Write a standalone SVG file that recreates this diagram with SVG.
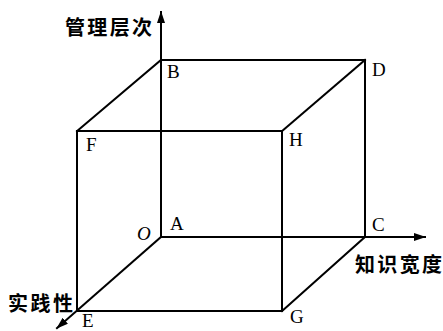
<svg xmlns="http://www.w3.org/2000/svg" width="443" height="331" viewBox="0 0 443 331">
<style>
.e{stroke:#000;stroke-width:2;fill:none;stroke-linecap:square}
.lt{font-family:"Liberation Serif","Times New Roman",serif;font-size:19px;fill:#000}
.cn{font-family:"Noto Sans CJK SC",sans-serif;font-size:20px;font-weight:bold;fill:#000}
</style>
<defs>
<marker id="ar" viewBox="0 0 12 8" refX="11" refY="4" markerWidth="12" markerHeight="8" markerUnits="userSpaceOnUse" orient="auto">
<path d="M0,0 L12,4 L0,8 Z" fill="#000"/>
</marker>
</defs>
<g id="connectors">
<line class="e" x1="161" y1="237" x2="161" y2="12" marker-end="url(#ar)"/>
<line class="e" x1="161" y1="237" x2="425" y2="237" marker-end="url(#ar)"/>
<line class="e" x1="161" y1="237" x2="57" y2="328" marker-end="url(#ar)"/>
<line class="e" x1="161" y1="60" x2="365" y2="60"/>
<line class="e" x1="365" y1="60" x2="365" y2="237"/>
<line class="e" x1="161" y1="60" x2="77" y2="131"/>
<line class="e" x1="365" y1="60" x2="282" y2="131"/>
<line class="e" x1="77" y1="131" x2="282" y2="131"/>
<line class="e" x1="77" y1="131" x2="77" y2="311"/>
<line class="e" x1="282" y1="131" x2="282" y2="311"/>
<line class="e" x1="77" y1="311" x2="282" y2="311"/>
<line class="e" x1="365" y1="237" x2="282" y2="311"/>
</g>
<g id="B"><text class="lt" x="167" y="78">B</text></g>
<g id="D"><text class="lt" x="372" y="76">D</text></g>
<g id="F"><text class="lt" x="86" y="151">F</text></g>
<g id="H"><text class="lt" x="289" y="146">H</text></g>
<g id="O"><text class="lt" x="137" y="240" font-style="italic">O</text></g>
<g id="A"><text class="lt" x="170" y="230">A</text></g>
<g id="C"><text class="lt" x="372" y="231">C</text></g>
<g id="E"><text class="lt" x="82" y="327">E</text></g>
<g id="G"><text class="lt" x="290" y="323">G</text></g>
<g id="axis-y"><text class="cn" x="65" y="35" textLength="87">管理层次</text></g>
<g id="axis-x"><text class="cn" x="355" y="272" textLength="87">知识宽度</text></g>
<g id="axis-z"><text class="cn" x="8" y="311" textLength="65">实践性</text></g>
</svg>
